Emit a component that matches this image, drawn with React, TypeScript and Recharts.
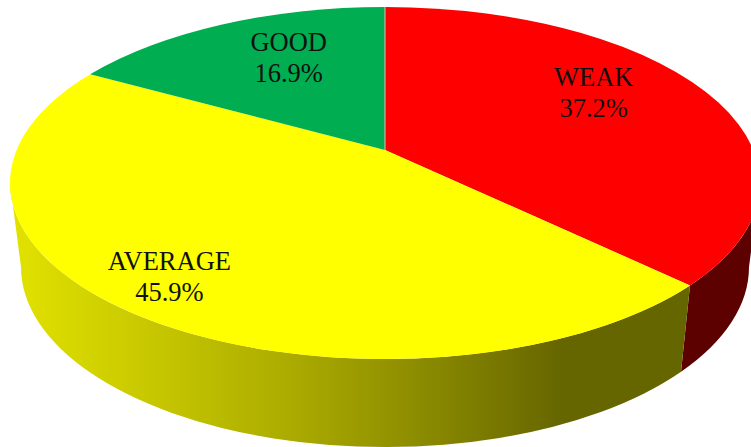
import React from 'react';
import { PieChart, Pie, Cell } from 'recharts';

const categories = ['WEAK', 'AVERAGE', 'GOOD'];
const shares = [37.2, 45.9, 16.9];
const topColors = ['#ff0000', '#ffff00', '#00ad50'];

const pieData = categories.map((name, i) => ({ name, value: shares[i] }));

// ellipse of the lid and of the base, the apex sits above the lid's centre (perspective)
const RX = 375;
const RY = 176;
const APEX_SHIFT = 0.1875;
const BASE_RX = 364;
const BASE_RY = 180;
const BASE_DY = 84;

// label nudges on top of the projected position, one per slice
const labelNudge = [[-17, -14], [-44, 19], [21, -1]];

const RAD = Math.PI / 180;

// pie angle (clockwise from top, radians) -> angle on the drawn ellipse
const rimAngle = (t: number) => {
  const d = 1 + APEX_SHIFT * Math.cos(t);
  const k = Math.sqrt(1 - APEX_SHIFT * APEX_SHIFT);
  const a = Math.atan2((Math.sin(t) * k) / d, (Math.cos(t) + APEX_SHIFT) / d);
  return a + 2 * Math.PI * Math.round((t - a) / (2 * Math.PI));
};

const onRim = (cx: number, cy: number, rx: number, ry: number, a: number) =>
  `${cx + rx * Math.sin(a)} ${cy - ry * Math.cos(a)}`;

const TopSlice = (props: any) => {
  const { cx, cy, outerRadius, startAngle, endAngle, fill, index } = props;
  const ry = (outerRadius * RY) / RX;
  const a = rimAngle((90 - startAngle) * RAD);
  const b = rimAngle((90 - endAngle) * RAD);
  const apexY = cy - ry * APEX_SHIFT;
  const large = b - a > Math.PI ? 1 : 0;
  const d = `M ${cx} ${apexY} L ${onRim(cx, cy, outerRadius, ry, a)} A ${outerRadius} ${ry} 0 ${large} 1 ${onRim(cx, cy, outerRadius, ry, b)} Z`;
  return (
    <g>
      <path d={d} fill={fill} />
      {index === 2 && (
        <line x1={cx} y1={apexY} x2={cx} y2={cy - ry} stroke="#f4b8b0" strokeWidth={1} />
      )}
    </g>
  );
};

const WallSlice = (props: any) => {
  const { cx, cy, outerRadius, startAngle, endAngle, index } = props;
  const ry = (outerRadius * RY) / RX;
  const a = Math.max(rimAngle((90 - startAngle) * RAD), Math.PI / 2);
  const b = Math.min(rimAngle((90 - endAngle) * RAD), (3 * Math.PI) / 2);
  if (a >= b) return null;
  const baseY = cy + BASE_DY;
  const d = [
    `M ${onRim(cx, cy, outerRadius, ry, a)}`,
    `A ${outerRadius} ${ry} 0 0 1 ${onRim(cx, cy, outerRadius, ry, b)}`,
    `L ${onRim(cx, baseY, BASE_RX, BASE_RY, b)}`,
    `A ${BASE_RX} ${BASE_RY} 0 0 0 ${onRim(cx, baseY, BASE_RX, BASE_RY, a)}`,
    'Z',
  ].join(' ');
  return (
    <g>
      <defs>
        <linearGradient id="yellowWall" gradientUnits="userSpaceOnUse" x1={10} y1={0} x2={690} y2={0}>
          <stop offset="0" stopColor="#e2e200" />
          <stop offset="0.15" stopColor="#cfcf00" />
          <stop offset="0.4" stopColor="#adad00" />
          <stop offset="0.6" stopColor="#8c8c00" />
          <stop offset="0.81" stopColor="#666600" />
          <stop offset="1" stopColor="#666600" />
        </linearGradient>
      </defs>
      <path d={d} fill={index === 1 ? 'url(#yellowWall)' : '#5c0000'} />
    </g>
  );
};

const SliceLabel = (props: any) => {
  const { cx, cy, outerRadius, midAngle, index, name, value } = props;
  const ry = (outerRadius * RY) / RX;
  const t = (90 - midAngle) * RAD;
  const r = 0.7;
  const d = 1 + APEX_SHIFT * r * Math.cos(t);
  const k = Math.sqrt(1 - APEX_SHIFT * APEX_SHIFT);
  const x = cx + (outerRadius * r * Math.sin(t) * k) / d + labelNudge[index][0];
  const y = cy - (ry * (r * Math.cos(t) + APEX_SHIFT)) / d + labelNudge[index][1];
  return (
    <text x={x} y={y} textAnchor="middle" fontFamily="'Liberation Serif', serif" fontSize={26.5} fill="#111">
      <tspan x={x} dy={-6}>{name}</tspan>
      <tspan x={x} dy={31}>{`${value}%`}</tspan>
    </text>
  );
};

export default function App() {
  return (
    <div style={{ position: 'absolute', left: 0, top: 0, width: 751, height: 447, overflow: 'hidden', background: '#fff' }}>
      <PieChart width={751} height={447} margin={{ top: 0, right: 0, bottom: 0, left: 0 }}>
        <Pie
          data={pieData}
          dataKey="value"
          nameKey="name"
          cx={385}
          cy={183}
          innerRadius={0}
          outerRadius={RX}
          startAngle={90}
          endAngle={-270}
          stroke="none"
          shape={WallSlice}
          isAnimationActive={false}
        />
        <Pie
          data={pieData}
          dataKey="value"
          nameKey="name"
          cx={385}
          cy={183}
          innerRadius={0}
          outerRadius={RX}
          startAngle={90}
          endAngle={-270}
          stroke="none"
          shape={TopSlice}
          label={SliceLabel}
          labelLine={false}
          isAnimationActive={false}
        >
          {categories.map((c, i) => (
            <Cell key={c} fill={topColors[i]} />
          ))}
        </Pie>
      </PieChart>
    </div>
  );
}
